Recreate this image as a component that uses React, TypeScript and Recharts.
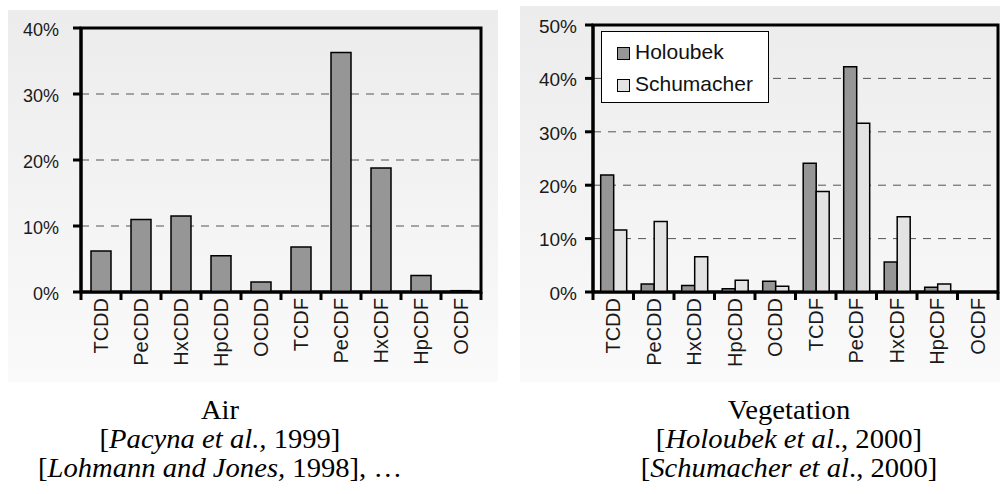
import React from 'react';
import { BarChart, Bar, XAxis, YAxis, CartesianGrid, ReferenceArea } from 'recharts';

const categories = ['TCDD', 'PeCDD', 'HxCDD', 'HpCDD', 'OCDD', 'TCDF', 'PeCDF', 'HxCDF', 'HpCDF', 'OCDF'];
const airValues = [6.2, 11.0, 11.5, 5.5, 1.5, 6.8, 36.3, 18.8, 2.5, 0.2];
const holoubekValues = [21.9, 1.5, 1.2, 0.6, 2.0, 24.1, 42.2, 5.6, 0.9, 0];
const schumacherValues = [11.6, 13.2, 6.6, 2.2, 1.1, 18.8, 31.6, 14.1, 1.5, 0];
const airTicks = [0, 10, 20, 30, 40];
const vegTicks = [0, 10, 20, 30, 40, 50];

const airData = categories.map((c, i) => ({ name: c, air: airValues[i] }));
const vegData = categories.map((c, i) => ({ name: c, holoubek: holoubekValues[i], schumacher: schumacherValues[i] }));

const SANS = '"Liberation Sans", Arial, sans-serif';
const SERIF = '"Liberation Serif", "Times New Roman", serif';
const DARK = '#969696';
const LIGHT = '#e3e3e3';

const CatTick = (props: any) => {
  const { x, y, payload, index } = props;
  const half = payload.offset || 0;
  const last = index === categories.length - 1;
  return (
    <g>
      <line x1={x - half} x2={x - half} y1={y} y2={y + 8} stroke="#000" strokeWidth={3} />
      {last && <line x1={x + half} x2={x + half} y1={y} y2={y + 8} stroke="#000" strokeWidth={3} />}
      <text
        transform={`translate(${x + 7},${y + 6}) rotate(-90)`}
        textAnchor="end"
        fontFamily={SANS}
        fontSize={20}
        fill="#1a1a1a"
      >
        {payload.value}
      </text>
    </g>
  );
};

const pct = (v: number) => `${v}%`;

const LegendBox = () => (
  <div
    style={{
      position: 'absolute',
      left: 81,
      top: 25,
      width: 168,
      height: 72,
      background: '#fff',
      border: '1.5px solid #000',
      fontFamily: SANS,
      fontSize: 21,
      color: '#111',
      boxSizing: 'border-box',
      paddingTop: 4,
      paddingLeft: 15,
    }}
  >
    {[
      { n: 'Holoubek', c: DARK },
      { n: 'Schumacher', c: LIGHT },
    ].map((it) => (
      <div key={it.n} style={{ display: 'flex', alignItems: 'center', height: 32 }}>
        <span
          style={{
            display: 'inline-block',
            width: 11,
            height: 11,
            background: it.c,
            border: '1.5px solid #000',
            marginRight: 5,
            marginTop: 3,
          }}
        />
        <span>{it.n}</span>
      </div>
    ))}
  </div>
);

const panelStyle: React.CSSProperties = {
  position: 'absolute',
  background: 'linear-gradient(to bottom, #ececec, #fafafa)',
};

const captionStyle: React.CSSProperties = {
  position: 'absolute',
  width: 400,
  textAlign: 'center',
  fontFamily: SERIF,
  fontSize: 27,
  lineHeight: '29px',
  color: '#000',
  transform: 'scaleX(1.06)',
};

export default function App() {
  return (
    <div style={{ position: 'absolute', left: 0, top: 0, width: 1000, height: 494, background: '#fff', overflow: 'hidden' }}>
      <div style={{ ...panelStyle, left: 8, top: 10, width: 490, height: 372 }}>
        <BarChart width={490} height={372} data={airData} margin={{ top: 18, right: 17, left: 0, bottom: 8 }} barCategoryGap="25%">
          <CartesianGrid vertical={false} stroke="#555" strokeDasharray="8 7" />
          <XAxis
            dataKey="name"
            interval={0}
            height={82}
            tickLine={false}
            tickSize={0}
            tickMargin={0}
            tick={<CatTick />}
            axisLine={{ stroke: '#000', strokeWidth: 3 }}
          />
          <YAxis
            domain={[0, 40]}
            ticks={airTicks}
            tickFormatter={pct}
            width={73}
            tickSize={8}
            tickMargin={14}
            tickLine={{ stroke: '#000', strokeWidth: 3 }}
            axisLine={{ stroke: '#000', strokeWidth: 3 }}
            tick={{ fontFamily: SANS, fontSize: 18, fill: '#1a1a1a', dy: 2 }}
          />
          <Bar dataKey="air" fill={DARK} stroke="#000" strokeWidth={1.5} isAnimationActive={false} />
          <ReferenceArea y1={0} y2={40} fill="none" stroke="#000" strokeWidth={3} ifOverflow="visible" />
        </BarChart>
      </div>

      <div style={{ ...panelStyle, left: 520, top: 6, width: 480, height: 376 }}>
        <BarChart width={480} height={376} data={vegData} margin={{ top: 19, right: 2, left: 0, bottom: 8 }} barCategoryGap="19%" barGap={0}>
          <CartesianGrid vertical={false} stroke="#555" strokeDasharray="8 7" />
          <XAxis
            dataKey="name"
            interval={0}
            height={82}
            tickLine={false}
            tickSize={0}
            tickMargin={0}
            tick={<CatTick />}
            axisLine={{ stroke: '#000', strokeWidth: 3 }}
          />
          <YAxis
            domain={[0, 50]}
            ticks={vegTicks}
            tickFormatter={pct}
            width={73}
            tickSize={8}
            tickMargin={8}
            tickLine={{ stroke: '#000', strokeWidth: 3 }}
            axisLine={{ stroke: '#000', strokeWidth: 3 }}
            tick={{ fontFamily: SANS, fontSize: 19, fill: '#1a1a1a', dy: 1 }}
          />
          <Bar dataKey="holoubek" name="Holoubek" fill={DARK} stroke="#000" strokeWidth={1.5} isAnimationActive={false} />
          <Bar dataKey="schumacher" name="Schumacher" fill={LIGHT} stroke="#000" strokeWidth={1.5} isAnimationActive={false} />
          <ReferenceArea y1={0} y2={50} fill="none" stroke="#000" strokeWidth={3} ifOverflow="visible" />
        </BarChart>
        <LegendBox />
      </div>

      <div style={{ ...captionStyle, left: 20, top: 396 }}>
        <div>Air</div>
        <div>[<i>Pacyna et al.,</i> 1999]</div>
        <div>[<i>Lohmann and Jones,</i> 1998], …</div>
      </div>
      <div style={{ ...captionStyle, left: 589, top: 396 }}>
        <div>Vegetation</div>
        <div>[<i>Holoubek et al</i>., 2000]</div>
        <div>[<i>Schumacher et al</i>., 2000]</div>
      </div>
    </div>
  );
}
